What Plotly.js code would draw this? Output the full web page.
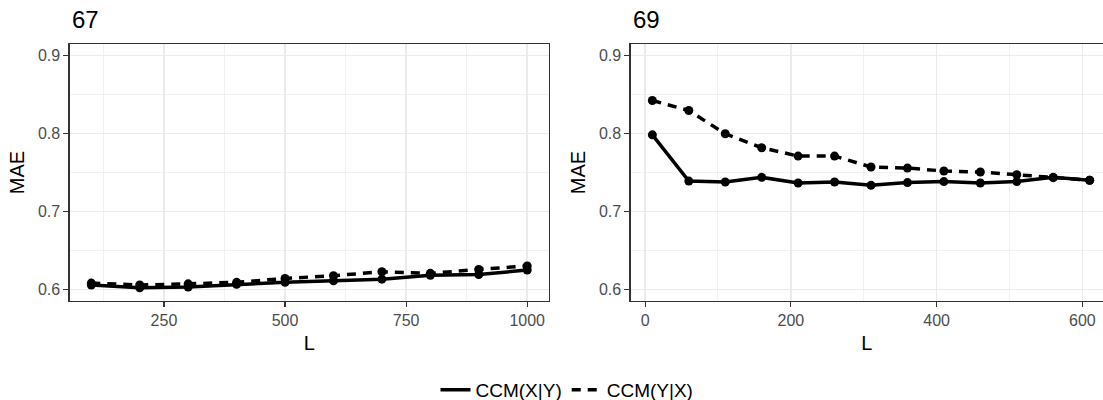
<!DOCTYPE html>
<html>
<head>
<meta charset="utf-8">
<script src="https://cdn.plot.ly/plotly-3.0.1.min.js"></script>
<style>
html, body { margin: 0; padding: 0; background: #fff; overflow: hidden; }
#chart { width: 1103px; height: 400px; }
</style>
</head>
<body>
<div id="chart"></div>
<script>
// Panel "67"
const L67 = [100, 200, 300, 400, 500, 600, 700, 800, 900, 1000];
const xy67 = [0.6055, 0.602, 0.603, 0.6065, 0.609, 0.611, 0.613, 0.618, 0.619, 0.6247];
const yx67 = [0.608, 0.6055, 0.607, 0.609, 0.614, 0.6175, 0.6225, 0.6205, 0.6255, 0.630];

// Panel "69"
const L69 = [10, 60, 110, 160, 210, 260, 310, 360, 410, 460, 510, 560, 610];
const xy69 = [0.7984, 0.739, 0.7378, 0.7438, 0.7365, 0.7378, 0.7335, 0.737, 0.7383, 0.7365, 0.7383, 0.7438, 0.740];
const yx69 = [0.8424, 0.8296, 0.7997, 0.7818, 0.7711, 0.7711, 0.757, 0.7557, 0.7519, 0.7506, 0.7472, 0.7434, 0.740];

const panelTitles = ["67", "69"];
const seriesNames = ["CCM(X|Y)", "CCM(Y|X)"];

const W = 1103, H = 400;
const FONT = "Liberation Sans, Arial, Helvetica, sans-serif";
const lineW = 3.5;
const dashPat = "9px,7px";
const mk = {size: 9, color: "#000000"};

function lineTrace(x, y, name, dash, xa, ya, show) {
  return {x: x, y: y, name: name, mode: "lines", type: "scatter",
    line: {color: "#000000", width: lineW, dash: dash},
    xaxis: xa, yaxis: ya, showlegend: show, legendgroup: name, hoverinfo: "x+y"};
}
function markerTrace(x, y, xa, ya) {
  return {x: x, y: y, mode: "markers", type: "scatter", marker: mk,
    xaxis: xa, yaxis: ya, showlegend: false, hoverinfo: "x+y"};
}

const data = [
  lineTrace(L67, xy67, seriesNames[0], "solid", "x", "y", true),
  lineTrace(L67, yx67, seriesNames[1], dashPat, "x", "y", true),
  markerTrace(L67, xy67, "x", "y"),
  markerTrace(L67, yx67, "x", "y"),
  lineTrace(L69, xy69, seriesNames[0], "solid", "x2", "y2", false),
  lineTrace(L69, yx69, seriesNames[1], dashPat, "x2", "y2", false),
  markerTrace(L69, xy69, "x2", "y2"),
  markerTrace(L69, yx69, "x2", "y2")
];

const gridMajor = "#EBEBEB";
const gridMinor = "#EFEFEF";
const axisCol = "#333333";
const tickFont = {family: FONT, size: 16, color: "#4D4D4D"};
const titleFont = {family: FONT, size: 20, color: "#000000"};

function xAxis(domain, range, dtick, minorDtick, anchor, mirror) {
  return {
    domain: domain, range: range, anchor: anchor,
    tickmode: "linear", tick0: 0, dtick: dtick,
    showgrid: true, gridcolor: gridMajor, gridwidth: 1.6,
    minor: {tick0: 0, dtick: minorDtick, showgrid: true, gridcolor: gridMinor, gridwidth: 0.9, ticks: ""},
    zeroline: false, showline: true, linecolor: axisCol, linewidth: 1.1, mirror: mirror,
    ticks: "outside", ticklen: 5, tickwidth: 1.1, tickcolor: axisCol,
    tickfont: tickFont,
    title: {text: "L", font: titleFont, standoff: 7},
    automargin: false
  };
}
function yAxis(domain, anchor, mirror) {
  return {
    domain: domain, range: [0.585, 0.915], anchor: anchor,
    tickmode: "linear", tick0: 0.6, dtick: 0.1, tickformat: ".1f",
    showgrid: true, gridcolor: gridMajor, gridwidth: 1.6,
    minor: {tick0: 0.55, dtick: 0.05, showgrid: true, gridcolor: gridMinor, gridwidth: 0.9, ticks: ""},
    zeroline: false, showline: true, linecolor: axisCol, linewidth: 1.1, mirror: mirror,
    ticks: "outside", ticklen: 5, tickwidth: 1.1, tickcolor: axisCol,
    tickfont: tickFont,
    title: {text: "MAE", font: titleFont, standoff: 8},
    automargin: false
  };
}

const plotTop = 44, plotBottom = 301;
const ph = plotBottom - plotTop;
const layout = {
  width: W, height: H,
  margin: {l: 0, r: 0, t: plotTop, b: H - plotBottom, pad: 0, autoexpand: false},
  paper_bgcolor: "#ffffff", plot_bgcolor: "#ffffff",
  font: {family: FONT, color: "#000000"},
  xaxis: xAxis([69.5 / W, 549 / W], [55, 1045], 250, 125, "y", true),
  yaxis: yAxis([0, 1], "x", true),
  xaxis2: xAxis([630.5 / W, 1], [-20, 628.3], 200, 100, "y2", true),
  yaxis2: yAxis([0, 1], "x2", false),
  showlegend: true,
  legend: {orientation: "h", xref: "container", yref: "container", x: 567 / W, xanchor: "center",
    y: (H - 390) / H, yanchor: "middle",
    font: {family: FONT, size: 19, color: "#000000"}, itemwidth: 30, bgcolor: "rgba(0,0,0,0)", tracegroupgap: 0},
  annotations: [
    {text: panelTitles[0], xref: "paper", yref: "paper", x: 69.5 / W, xanchor: "left",
     y: 1 + (plotTop - 20) / ph, yanchor: "middle", showarrow: false,
     font: {family: FONT, size: 24, color: "#000000"}},
    {text: panelTitles[1], xref: "paper", yref: "paper", x: 630.5 / W, xanchor: "left",
     y: 1 + (plotTop - 20) / ph, yanchor: "middle", showarrow: false,
     font: {family: FONT, size: 24, color: "#000000"}}
  ]
};

Plotly.newPlot("chart", data, layout, {displayModeBar: false, staticPlot: true});
</script>
</body>
</html>
